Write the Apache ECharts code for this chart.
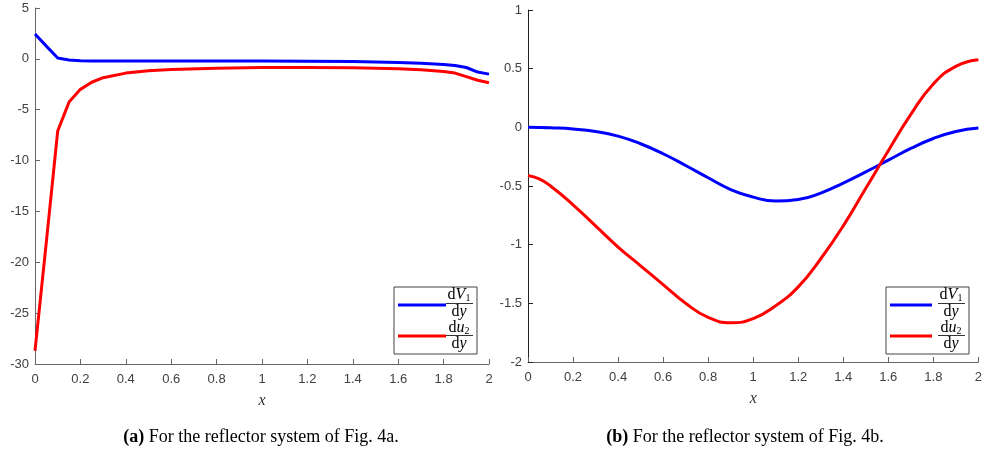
<!DOCTYPE html>
<html>
<head>
<meta charset="utf-8">
<script src="https://cdn.jsdelivr.net/npm/echarts@6/dist/echarts.min.js"></script>
<style>html,body{margin:0;padding:0;background:#fff}#c{width:985px;height:451px}</style>
</head>
<body>
<div id="c"></div>
<script>
// ---- data ----
var xA = [0,0.05,0.1,0.15,0.2,0.25,0.3,0.4,0.5,0.6,0.8,1.0,1.2,1.4,1.6,1.7,1.8,1.85,1.9,1.95,2.0];
var dV1A = [2.45,1.25,0.08,-0.12,-0.18,-0.2,-0.21,-0.22,-0.22,-0.22,-0.22,-0.22,-0.23,-0.26,-0.35,-0.42,-0.55,-0.65,-0.85,-1.3,-1.5];
var du2A = [-28.7,-18,-7.1,-4.25,-3.0,-2.3,-1.85,-1.4,-1.18,-1.05,-0.92,-0.85,-0.84,-0.88,-0.97,-1.08,-1.25,-1.4,-1.75,-2.1,-2.35];

var xB = [0,0.05,0.1,0.2,0.3,0.4,0.5,0.6,0.7,0.8,0.9,1.0,1.1,1.2,1.3,1.4,1.5,1.6,1.7,1.8,1.9,2.0];
var dV1B = [0,-0.001,-0.004,-0.014,-0.035,-0.075,-0.14,-0.225,-0.325,-0.43,-0.53,-0.595,-0.628,-0.615,-0.56,-0.475,-0.38,-0.28,-0.18,-0.095,-0.035,-0.005];
var du2B = [-0.41,-0.44,-0.5,-0.66,-0.84,-1.02,-1.18,-1.34,-1.5,-1.62,-1.665,-1.63,-1.52,-1.36,-1.12,-0.84,-0.52,-0.2,0.11,0.37,0.52,0.576];

var captions = ['(a)', ' For the reflector system of Fig. 4a.', '(b)', ' For the reflector system of Fig. 4b.'];
var axisName = 'x';

function pairs(xs, ys){ return xs.map(function(x,i){return [x, ys[i]];}); }

var chart = echarts.init(document.getElementById('c'), null, {renderer:'canvas'});

var tickFont = {color:'#404040', fontSize:13, fontFamily:'Liberation Sans, Arial, sans-serif'};
function xAxisCfg(idx, color){
  return {
    type:'value', gridIndex:idx, min:0, max:2, interval:0.2,
    axisLine:{show:true, onZero:false, lineStyle:{color:color, width:1}},
    axisTick:{show:true, inside:true, length:5, lineStyle:{color:color}},
    axisLabel:Object.assign({margin:9}, tickFont),
    splitLine:{show:false},
    name:axisName, nameLocation:'middle', nameGap:29,
    nameTextStyle:{fontFamily:'Liberation Serif, DejaVu Serif, serif', fontStyle:'italic', fontSize:16, color:'#333'}
  };
}
function yAxisCfg(idx, min, max, interval, color){
  return {
    type:'value', gridIndex:idx, min:min, max:max, interval:interval,
    axisLine:{show:true, onZero:false, lineStyle:{color:color, width:1}},
    axisTick:{show:true, inside:true, length:5, lineStyle:{color:color}},
    axisLabel:Object.assign({margin:6}, tickFont),
    splitLine:{show:false}
  };
}

var mathRich = {
  r:{fontFamily:'Liberation Serif, DejaVu Serif, serif', fontSize:16, color:'#000'},
  i:{fontFamily:'Liberation Serif, DejaVu Serif, serif', fontSize:16, fontStyle:'italic', color:'#000'},
  s:{fontFamily:'Liberation Serif, DejaVu Serif, serif', fontSize:10, color:'#000', verticalAlign:'bottom', padding:[6,0,0,0]}
};

function legendGroup(x0, y0, lineW){
  return {
    type:'group', x:x0, y:y0, children:[
      {type:'rect', shape:{x:0, y:0, width:83, height:67}, style:{fill:'#fff', stroke:'#444', lineWidth:1}},
      {type:'line', shape:{x1:4, y1:18, x2:lineW, y2:18}, style:{stroke:'#0000ff', lineWidth:3}},
      {type:'line', shape:{x1:4, y1:49, x2:lineW, y2:49}, style:{stroke:'#ff0000', lineWidth:3}},
      {type:'text', x:65, y:8, style:{text:'{r|d}{i|V}{s|1}', rich:mathRich, align:'center', verticalAlign:'middle'}},
      {type:'line', shape:{x1:52, y1:16.5, x2:79, y2:16.5}, style:{stroke:'#000', lineWidth:0.8}},
      {type:'text', x:65, y:25, style:{text:'{r|d}{i|y}', rich:mathRich, align:'center', verticalAlign:'middle'}},
      {type:'text', x:65, y:41, style:{text:'{r|d}{i|u}{s|2}', rich:mathRich, align:'center', verticalAlign:'middle'}},
      {type:'line', shape:{x1:52, y1:48.5, x2:79, y2:48.5}, style:{stroke:'#000', lineWidth:0.8}},
      {type:'text', x:65, y:57, style:{text:'{r|d}{i|y}', rich:mathRich, align:'center', verticalAlign:'middle'}}
    ]
  };
}

var capRich = {
  b:{fontFamily:'Liberation Serif, Times New Roman, serif', fontWeight:'bold', fontSize:18, color:'#000'},
  n:{fontFamily:'Liberation Serif, Times New Roman, serif', fontSize:18, color:'#000'}
};

var option = {
  animation:false,
  backgroundColor:'#fff',
  grid:[
    {left:35, top:8, width:454, height:356},
    {left:528, top:10, width:452, height:352}
  ],
  xAxis:[xAxisCfg(0,'#666'), xAxisCfg(1,'#666')],
  yAxis:[yAxisCfg(0,-30,5,5,'#666'), yAxisCfg(1,-2,1,0.5,'#222')],
  series:[
    {name:'dV1/dy', type:'line', xAxisIndex:0, yAxisIndex:0, data:pairs(xA,dV1A), showSymbol:false, lineStyle:{color:'#0000ff', width:3}, itemStyle:{color:'#0000ff'}},
    {name:'du2/dy', type:'line', xAxisIndex:0, yAxisIndex:0, data:pairs(xA,du2A), showSymbol:false, lineStyle:{color:'#ff0000', width:3}, itemStyle:{color:'#ff0000'}},
    {name:'dV1/dy', type:'line', xAxisIndex:1, yAxisIndex:1, data:pairs(xB,dV1B), smooth:0.5, showSymbol:false, lineStyle:{color:'#0000ff', width:3}, itemStyle:{color:'#0000ff'}},
    {name:'du2/dy', type:'line', xAxisIndex:1, yAxisIndex:1, data:pairs(xB,du2B), smooth:0.5, showSymbol:false, lineStyle:{color:'#ff0000', width:3}, itemStyle:{color:'#ff0000'}}
  ],
  graphic:[
    legendGroup(394, 287, 52),
    legendGroup(886, 287, 46),
    {type:'text', x:261, y:437, style:{text:'{b|'+captions[0]+'}{n|'+captions[1]+'}', rich:capRich, align:'center', verticalAlign:'middle'}},
    {type:'text', x:745, y:437, style:{text:'{b|'+captions[2]+'}{n|'+captions[3]+'}', rich:capRich, align:'center', verticalAlign:'middle'}}
  ]
};
chart.setOption(option);
</script>
</body>
</html>
